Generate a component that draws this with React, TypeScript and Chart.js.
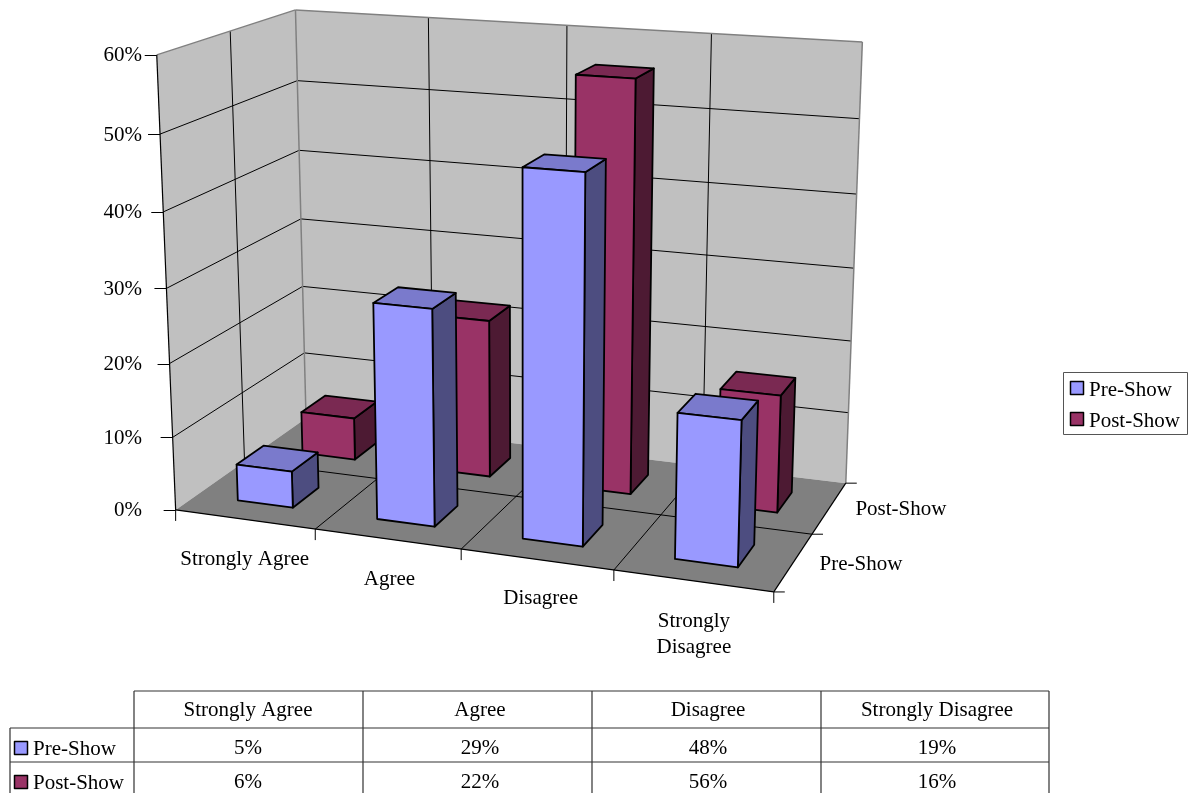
import React, { useEffect, useRef } from "react";
import { Chart, registerables } from "chart.js";

Chart.register(...registerables);

// Survey responses, in percent.
const categories = ["Strongly Agree", "Agree", "Disagree", "Strongly Disagree"];
const axisLabels = [["Strongly Agree"], ["Agree"], ["Disagree"], ["Strongly", "Disagree"]];
const seriesNames = ["Pre-Show", "Post-Show"];
const preShow = [5, 29, 48, 19];
const postShow = [6, 22, 56, 16];
const seriesColors = ["#9999FF", "#993366"];
const valueTicks = [0, 10, 20, 30, 40, 50, 60];

const WIDTH = 1188;
const HEIGHT = 793;
const FONT = '"Liberation Serif", "Times New Roman", serif';
const FONT_PX = 21;

// Camera calibration: box coordinates [u, v, w] (each 0..1) and where they land on the canvas.
const CALIBRATION: number[][] = [
  [0, 0, 0, 176, 510],
  [0.25, 0, 0, 315.5, 530],
  [0.5, 0, 0, 461, 550],
  [0.75, 0, 0, 613, 570.5],
  [1, 0, 0, 774, 591],
  [1, 0.5, 0, 812, 534],
  [1, 1, 0, 846, 483],
  [0, 1, 0, 306, 418],
  [0, 0, 1, 157, 55],
  [0, 0.5, 1, 230, 31],
  [0, 1, 1, 295, 10],
  [0, 1, 5 / 6, 297.5, 81],
  [1, 1, 1, 863, 42],
  [1, 1, 5 / 6, 859, 119],
  [0, 0, 0.5, 166.5, 287],
];

type Pt = { x: number; y: number };

function solve(m: number[][], r: number[]) {
  const n = r.length;
  const a = m.map((row, i) => [...row, r[i]]);
  for (let c = 0; c < n; c++) {
    let piv = c;
    for (let i = c + 1; i < n; i++) if (Math.abs(a[i][c]) > Math.abs(a[piv][c])) piv = i;
    [a[c], a[piv]] = [a[piv], a[c]];
    for (let i = 0; i < n; i++) {
      if (i === c) continue;
      const f = a[i][c] / a[c][c];
      for (let j = c; j <= n; j++) a[i][j] -= f * a[c][j];
    }
  }
  return a.map((row, i) => row[n] / row[i]);
}

// Least-squares fit of a perspective camera to the calibration table.
function makeProjection() {
  const rows: number[][] = [];
  const rhs: number[] = [];
  CALIBRATION.forEach(([u, v, w, x, y]) => {
    rows.push([u, v, w, 1, 0, 0, 0, 0, -x * u, -x * v, -x * w]);
    rhs.push(x);
    rows.push([0, 0, 0, 0, u, v, w, 1, -y * u, -y * v, -y * w]);
    rhs.push(y);
  });
  const N = 11;
  const ata = Array.from({ length: N }, (_, i) =>
    Array.from({ length: N }, (_, j) => rows.reduce((s, row) => s + row[i] * row[j], 0))
  );
  const atb = Array.from({ length: N }, (_, i) => rows.reduce((s, row, k) => s + row[i] * rhs[k], 0));
  const c = solve(ata, atb);
  return (u: number, v: number, w: number): Pt => {
    const W = c[8] * u + c[9] * v + c[10] * w + 1;
    return {
      x: (c[0] * u + c[1] * v + c[2] * w + c[3]) / W,
      y: (c[4] * u + c[5] * v + c[6] * w + c[7]) / W,
    };
  };
}

function shade(hex: string, factor: number) {
  const n = parseInt(hex.slice(1), 16);
  const ch = (s: number) => Math.round(((n >> s) & 255) * factor);
  return `rgb(${ch(16)},${ch(8)},${ch(0)})`;
}

const project = makeProjection();

function poly(ctx: CanvasRenderingContext2D, pts: Pt[], fill: string | null, stroke: string | null, lw = 1) {
  ctx.beginPath();
  pts.forEach((p, i) => (i ? ctx.lineTo(p.x, p.y) : ctx.moveTo(p.x, p.y)));
  ctx.closePath();
  if (fill) {
    ctx.fillStyle = fill;
    ctx.fill();
  }
  if (stroke) {
    ctx.strokeStyle = stroke;
    ctx.lineWidth = lw;
    ctx.lineJoin = "round";
    ctx.stroke();
  }
}

function line(ctx: CanvasRenderingContext2D, a: Pt, b: Pt, color = "#000", lw = 1) {
  ctx.beginPath();
  ctx.moveTo(a.x, a.y);
  ctx.lineTo(b.x, b.y);
  ctx.strokeStyle = color;
  ctx.lineWidth = lw;
  ctx.stroke();
}

function label(ctx: CanvasRenderingContext2D, s: string, x: number, y: number, align: CanvasTextAlign) {
  ctx.font = `${FONT_PX}px ${FONT}`;
  ctx.fillStyle = "#000";
  ctx.textAlign = align;
  ctx.textBaseline = "middle";
  ctx.fillText(s, x, y + 1);
}

function swatch(ctx: CanvasRenderingContext2D, x: number, y: number, color: string) {
  ctx.fillStyle = color;
  ctx.fillRect(x, y, 13, 13);
  ctx.strokeStyle = "#000";
  ctx.lineWidth = 1.5;
  ctx.strokeRect(x, y, 13, 13);
}

// Offsets of the axis captions from their projected anchors on the floor edge.
const CAPTION_DX = [0, 2, 4, 1];
const CAPTION_DY = [39, 39, 38, 40];
// Text anchors inside the data table, measured from each column's left edge.
const TABLE_TEXT_DX = [114, 117, 116, 116];

// Replaces the flat bars with a box scene, reading every bar from the chart's own elements.
const scene3d = {
  id: "scene3d",
  beforeDatasetsDraw(chart: any) {
    const { ctx, chartArea: area, scales } = chart;
    const nDepth = chart.data.datasets.length;
    const toU = (px: number) => (px - area.left) / (area.right - area.left);
    const toW = (py: number) => (area.bottom - py) / (area.bottom - area.top);
    const xs = scales.x;
    const ys = scales.y;
    const nCat = chart.data.labels.length;
    const edgeU = (i: number) => toU(xs.getPixelForValue(i - 0.5));

    ctx.save();
    ctx.lineCap = "butt";

    // Walls and floor
    const p = project;
    poly(ctx, [p(0, 0, 0), p(0, 1, 0), p(0, 1, 1), p(0, 0, 1)], "#C0C0C0", null);
    poly(ctx, [p(0, 1, 0), p(1, 1, 0), p(1, 1, 1), p(0, 1, 1)], "#C0C0C0", null);
    poly(ctx, [p(0, 0, 0), p(1, 0, 0), p(1, 1, 0), p(0, 1, 0)], "#808080", null);

    // Value gridlines on both walls, with the tick marks and labels
    valueTicks.forEach((tick) => {
      const w = toW(ys.getPixelForValue(tick));
      if (tick > 0 && tick < valueTicks[valueTicks.length - 1]) {
        line(ctx, p(0, 0, w), p(0, 1, w));
        line(ctx, p(0, 1, w), p(1, 1, w));
      }
      const a = p(0, 0, w);
      line(ctx, { x: a.x - 12, y: Math.round(a.y) + 0.5 }, { x: a.x, y: Math.round(a.y) + 0.5 });
      label(ctx, `${tick}%`, 142, a.y, "right");
    });

    // Category gridlines on the back wall and floor
    for (let i = 1; i < nCat; i++) {
      const u = edgeU(i);
      line(ctx, p(u, 1, 0), p(u, 1, 1));
      line(ctx, p(u, 0, 0), p(u, 1, 0));
    }
    // Series gridlines on the side wall and floor
    for (let d = 1; d < nDepth; d++) {
      const v = d / nDepth;
      line(ctx, p(0, v, 0), p(0, v, 1));
      line(ctx, p(0, v, 0), p(1, v, 0));
    }

    // Wall outlines
    const grey = "#808080";
    line(ctx, p(0, 0, 1), p(0, 1, 1), grey, 1.5);
    line(ctx, p(0, 1, 1), p(1, 1, 1), grey, 1.5);
    line(ctx, p(0, 1, 0), p(0, 1, 1), grey, 1.5);
    line(ctx, p(1, 1, 0), p(1, 1, 1), grey, 1.5);
    line(ctx, p(0, 0, 0), p(0, 0, 1), "#000", 1.2);

    // Floor edges and their tick marks
    line(ctx, p(0, 0, 0), p(1, 0, 0), "#000", 1.2);
    line(ctx, p(1, 0, 0), p(1, 1, 0), "#000", 1.2);
    for (let i = 0; i <= nCat; i++) {
      const a = p(edgeU(i), 0, 0);
      line(ctx, a, { x: a.x, y: a.y + 11 });
    }
    for (let d = 0; d <= nDepth; d++) {
      const a = p(1, d / nDepth, 0);
      line(ctx, a, { x: a.x + 11, y: a.y });
    }

    // Axis labels
    for (let i = 0; i < nCat; i++) {
      const a = p(toU(xs.getPixelForValue(i)), 0, 0);
      axisLabels[i].forEach((s, j) =>
        label(ctx, s, a.x + CAPTION_DX[i], a.y + CAPTION_DY[i] + j * 26, "center")
      );
    }
    chart.data.datasets.forEach((ds: any, d: number) => {
      const a = p(1, (d + 0.5) / nDepth, 0);
      label(ctx, ds.label, a.x + 26, a.y + 1, "left");
    });

    // Bars, from the back row forward
    for (let d = nDepth - 1; d >= 0; d--) {
      const ds = chart.data.datasets[d];
      const color = ds.backgroundColor;
      const v0 = (d + 0.3) / nDepth;
      const v1 = (d + 0.7) / nDepth;
      chart.getDatasetMeta(d).data.forEach((bar: any) => {
        const { x, y, base, width } = bar.getProps(["x", "y", "base", "width"], true);
        const u0 = toU(x - width / 2);
        const u1 = toU(x + width / 2);
        const w0 = toW(base);
        const w1 = toW(y);
        const fb0 = p(u0, v0, w0), fb1 = p(u1, v0, w0);
        const ft0 = p(u0, v0, w1), ft1 = p(u1, v0, w1);
        const bb1 = p(u1, v1, w0), bt1 = p(u1, v1, w1), bt0 = p(u0, v1, w1);
        const lw = 1.8;
        poly(ctx, [fb1, bb1, bt1, ft1], shade(color, 0.5), "#000", lw);
        poly(ctx, [ft0, ft1, bt1, bt0], shade(color, 0.8), "#000", lw);
        poly(ctx, [fb0, fb1, ft1, ft0], color, "#000", lw);
      });
    }

    // Legend
    ctx.fillStyle = "#fff";
    ctx.fillRect(1063.5, 372.5, 124, 62);
    ctx.strokeStyle = "#555";
    ctx.lineWidth = 1;
    ctx.strokeRect(1063.5, 372.5, 124, 62);
    chart.data.datasets.forEach((ds: any, d: number) => {
      const y = 389 + d * 31;
      swatch(ctx, 1070.5, y - 7.5, ds.backgroundColor);
      label(ctx, ds.label, 1089, y, "left");
    });

    // Data table
    const colX = [134, 363, 592, 821, 1049];
    const rowY = [691, 728, 762];
    ctx.strokeStyle = "#333";
    ctx.lineWidth = 1.2;
    ctx.beginPath();
    ctx.moveTo(colX[0], rowY[0]);
    ctx.lineTo(colX[4], rowY[0]);
    ctx.moveTo(10, rowY[1]);
    ctx.lineTo(colX[4], rowY[1]);
    ctx.moveTo(10, rowY[2]);
    ctx.lineTo(colX[4], rowY[2]);
    ctx.moveTo(10, rowY[1]);
    ctx.lineTo(10, HEIGHT);
    colX.forEach((x) => {
      ctx.moveTo(x, rowY[0]);
      ctx.lineTo(x, HEIGHT);
    });
    ctx.stroke();
    chart.data.labels.forEach((name: string, i: number) => {
      const cx = colX[i] + TABLE_TEXT_DX[i];
      label(ctx, name, cx, 709, "center");
      chart.data.datasets.forEach((ds: any, d: number) => {
        label(ctx, `${ds.data[i]}%`, cx, rowY[d + 1] + 19, "center");
      });
    });
    chart.data.datasets.forEach((ds: any, d: number) => {
      const y = rowY[d + 1] + 20;
      swatch(ctx, 14.5, y - 6.5, ds.backgroundColor);
      label(ctx, ds.label, 33, y, "left");
    });

    ctx.restore();
    return false;
  },
};

export default function App() {
  const ref = useRef<HTMLCanvasElement>(null);
  useEffect(() => {
    const chart = new Chart(ref.current!, {
      type: "bar",
      data: {
        labels: categories,
        datasets: [
          { label: seriesNames[0], data: preShow, backgroundColor: seriesColors[0] },
          { label: seriesNames[1], data: postShow, backgroundColor: seriesColors[1] },
        ],
      },
      options: {
        animation: false,
        responsive: false,
        events: [],
        datasets: { bar: { grouped: false, categoryPercentage: 0.4, barPercentage: 1 } },
        plugins: { legend: { display: false }, tooltip: { enabled: false } },
        scales: {
          x: { display: false },
          y: { display: false, min: 0, max: 60, ticks: { stepSize: 10 } },
        },
      },
      plugins: [scene3d],
    } as any);
    return () => chart.destroy();
  }, []);
  return (
    <div style={{ position: "absolute", left: 0, top: 0, background: "#fff" }}>
      <canvas ref={ref} width={WIDTH} height={HEIGHT} style={{ display: "block" }} />
    </div>
  );
}
